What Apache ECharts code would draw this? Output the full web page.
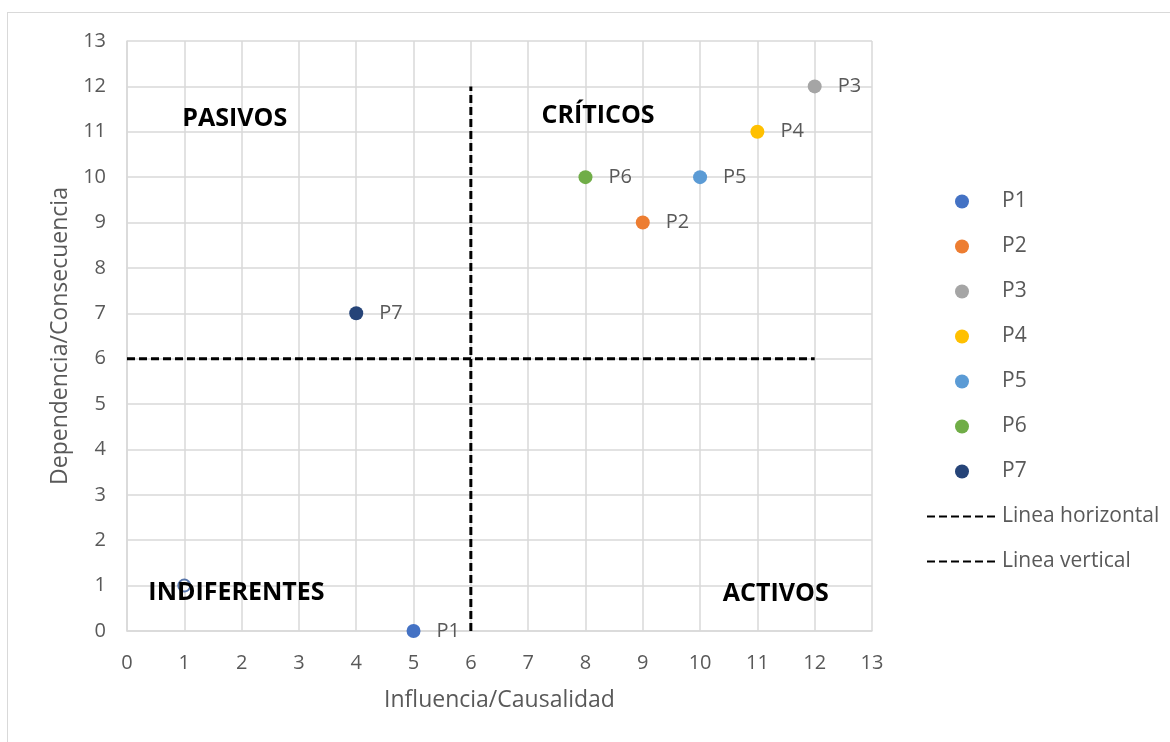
<!DOCTYPE html>
<html>
<head>
<meta charset="utf-8">
<script src="https://cdn.jsdelivr.net/npm/echarts@6/dist/echarts.min.js"></script>
<style>
html,body{margin:0;padding:0;background:#fff;}
#frame{position:absolute;left:7px;top:12px;width:1200px;height:800px;border:1px solid #D9D9D9;box-sizing:border-box;}
#chart{position:absolute;left:0;top:0;width:1170px;height:742px;}
</style>
</head>
<body>
<div id="frame"></div>
<div id="chart"></div>
<script>
// ---- data ----
const pointNames = ['P1','P2','P3','P4','P5','P6','P7'];
const pointX = [5, 9, 12, 11, 10, 8, 4];
const pointY = [0, 9, 12, 11, 10, 10, 7];
const pointColors = ['#4472C4','#ED7D31','#A5A5A5','#FFC000','#5B9BD5','#70AD47','#264478'];
const hiddenPoint = [1, 1];
const horizLineX = [0, 12];
const horizLineY = [6, 6];
const vertLineX = [6, 6];
const vertLineY = [0, 12];
const quadrantNames = ['PASIVOS','CRÍTICOS','INDIFERENTES','ACTIVOS'];
const quadrantX = [1.88, 8.22, 1.91, 11.32];
const quadrantY = [11.29, 11.35, 0.84, 0.82];
const xTicks = {min: 0, max: 13, interval: 1};
const yTicks = {min: 0, max: 13, interval: 1};

const FONT = 'Open Sans';
const GRAY = '#595959';

const series = pointNames.map((n, i) => ({
  name: n, type: 'scatter', symbol: 'circle', symbolSize: 14,
  itemStyle: {color: pointColors[i], opacity: 1},
  label: {show: true, position: 'right', distance: 16, formatter: n,
          color: GRAY, fontFamily: FONT, fontSize: 20},
  data: [[pointX[i], pointY[i]]], z: 5
}));
series.push({
  name: 'Linea horizontal', type: 'line', symbol: 'none', showSymbol: false,
  lineStyle: {color: '#000', width: 3, type: [8, 4]}, itemStyle: {color: '#000'},
  data: horizLineX.map((x, i) => [x, horizLineY[i]]), z: 3
});
series.push({
  name: 'Linea vertical', type: 'line', symbol: 'none', showSymbol: false,
  lineStyle: {color: '#000', width: 3, type: [8, 4]}, itemStyle: {color: '#000'},
  data: vertLineX.map((x, i) => [x, vertLineY[i]]), z: 3
});
series.push({
  name: 'hidden', type: 'scatter', symbol: 'circle', symbolSize: 12,
  itemStyle: {color: '#fff', borderColor: '#2F5597', borderWidth: 2},
  data: [hiddenPoint], z: 4
});
series.push({
  name: 'quadrants', type: 'scatter', symbol: 'circle', symbolSize: 1,
  itemStyle: {color: 'rgba(255,255,255,0)'},
  label: {show: true, position: 'inside', formatter: p => p.data[2],
          color: '#000000', opacity: 1, fontFamily: FONT, fontWeight: 'bold', fontSize: 25},
  emphasis: {disabled: true},
  data: quadrantNames.map((n, i) => [quadrantX[i], quadrantY[i], n]), z: 10
});

const chart = echarts.init(document.getElementById('chart'), null, {renderer: 'canvas'});
chart.setOption({
  animation: false,
  backgroundColor: 'transparent',
  grid: {left: 127, right: 298, top: 41, bottom: 111, containLabel: false},
  xAxis: {
    type: 'value', min: xTicks.min, max: xTicks.max, interval: xTicks.interval,
    name: 'Influencia/Causalidad', nameLocation: 'middle', nameGap: 58,
    nameTextStyle: {color: GRAY, fontFamily: FONT, fontSize: 23},
    axisLine: {show: true, lineStyle: {color: '#D9D9D9', width: 1.5}},
    axisTick: {show: false},
    axisLabel: {color: GRAY, fontFamily: FONT, fontSize: 20, margin: 22},
    splitLine: {show: true, lineStyle: {color: '#D9D9D9', width: 1.5}}
  },
  yAxis: {
    type: 'value', min: yTicks.min, max: yTicks.max, interval: yTicks.interval,
    name: 'Dependencia/Consecuencia', nameLocation: 'middle', nameGap: 55,
    nameTextStyle: {color: GRAY, fontFamily: FONT, fontSize: 23},
    axisLine: {show: true, lineStyle: {color: '#D9D9D9', width: 1.5}},
    axisTick: {show: false},
    axisLabel: {color: GRAY, fontFamily: FONT, fontSize: 20, margin: 21},
    splitLine: {show: true, lineStyle: {color: '#D9D9D9', width: 1.5}}
  },
  legend: {
    orient: 'vertical', left: 921, top: 186,
    itemWidth: 70, itemHeight: 14, itemGap: 24,
    data: pointNames.map(n => ({name: n, icon: 'circle'})).concat([
      {name: 'Linea horizontal', itemStyle: {opacity: 0}},
      {name: 'Linea vertical', itemStyle: {opacity: 0}}]),
    textStyle: {color: GRAY, fontFamily: FONT, fontSize: 21},
    selectedMode: false
  },
  series: series
});
</script>
</body>
</html>
